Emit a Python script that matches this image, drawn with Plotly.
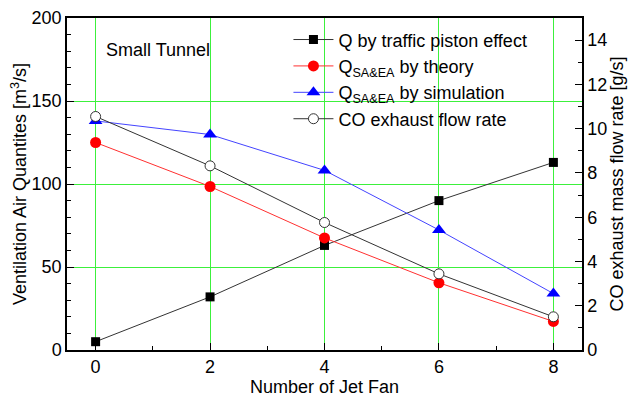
import plotly.graph_objects as go

jet_fans = [0, 2, 4, 6, 8]
q_piston = [5, 32, 63, 90, 113]
q_theory = [125, 98.5, 67.5, 40.5, 17.2]
q_simulation = [138, 129.8, 108.2, 72.3, 34]
co_exhaust = [10.55, 8.32, 5.76, 3.44, 1.5]

FONT = "Liberation Sans, Arial, sans-serif"
FS = 18
GRID = "#3cf03c"

fig = go.Figure()
fig.add_trace(go.Scatter(x=jet_fans, y=q_piston, mode="lines+markers",
                         name="Q by traffic piston effect",
                         line=dict(color="#333333", width=1),
                         marker=dict(symbol="square", size=9, color="black")))
fig.add_trace(go.Scatter(x=jet_fans, y=q_theory, mode="lines+markers",
                         name="Q<sub>SA&EA</sub> by theory",
                         line=dict(color="#ff3030", width=1),
                         marker=dict(symbol="circle", size=11, color="#ff0000")))
fig.add_trace(go.Scatter(x=jet_fans, y=q_simulation, mode="lines+markers",
                         name="Q<sub>SA&EA</sub> by simulation",
                         line=dict(color="#4444ff", width=1),
                         marker=dict(symbol="triangle-up", size=12, color="#0000ff")))
fig.add_trace(go.Scatter(x=jet_fans, y=co_exhaust, mode="lines+markers", yaxis="y2",
                         name="CO exhaust flow rate",
                         line=dict(color="#333333", width=1),
                         marker=dict(symbol="circle", size=10, color="white",
                                     line=dict(color="#333333", width=1))))

fig.update_layout(
    width=634, height=397,
    margin=dict(l=67, r=52, t=18, b=47, autoexpand=False),
    paper_bgcolor="white", plot_bgcolor="white",
    font=dict(family=FONT, size=FS, color="black"),
    showlegend=True,
    legend=dict(x=0.43, y=0.99, xanchor="left", yanchor="top",
                bgcolor="rgba(0,0,0,0)", font=dict(size=FS),
                tracegroupgap=0, itemwidth=40),
    xaxis=dict(range=[-0.5, 8.5], tickvals=[0, 2, 4, 6, 8],
               ticks="inside", ticklen=7, tickcolor="black",
               minor=dict(ticks="inside", dtick=1, tick0=0, ticklen=4, tickcolor="black", showgrid=False),
               showgrid=True, gridcolor=GRID, gridwidth=1,
               showline=True, linecolor="black", linewidth=1.5, mirror=True,
               zeroline=False, automargin=False,
               title=dict(text="Number of Jet Fan", standoff=0, font=dict(size=FS)),
               tickfont=dict(size=FS)),
    yaxis=dict(range=[0, 200], tickvals=[0, 50, 100, 150, 200],
               ticks="inside", ticklen=7, tickcolor="black",
               minor=dict(ticks="inside", dtick=10, tick0=0, ticklen=4, tickcolor="black", showgrid=False),
               showgrid=True, gridcolor=GRID, gridwidth=1,
               showline=True, linecolor="black", linewidth=1.5, mirror=True,
               zeroline=False, automargin=False, ticklabeloverflow="allow",
               title=dict(text="Ventilation Air Quantites [m<sup>3</sup>/s]", standoff=0, font=dict(size=FS)),
               tickfont=dict(size=FS)),
    yaxis2=dict(range=[0, 15], tickvals=[0, 2, 4, 6, 8, 10, 12, 14],
                overlaying="y", side="right",
                ticks="inside", ticklen=7, tickcolor="black",
                minor=dict(ticks="inside", dtick=1, tick0=0, ticklen=4, tickcolor="black", showgrid=False),
                showgrid=False, showline=True, linecolor="black", linewidth=1.5,
                zeroline=False, automargin=False,
                title=dict(text="CO exhaust mass flow rate [g/s]", standoff=0, font=dict(size=FS)),
                tickfont=dict(size=FS)),
    annotations=[dict(text="Small Tunnel", x=0.072, y=0.905, xref="paper", yref="paper",
                      xanchor="left", yanchor="middle", showarrow=False,
                      font=dict(size=FS))],
)

# remove the default 8px body margin so the 634x397 figure fills the window exactly
fig.write_html("out.html", config={"displayModeBar": False},
               post_script="document.body.style.margin='0';")
